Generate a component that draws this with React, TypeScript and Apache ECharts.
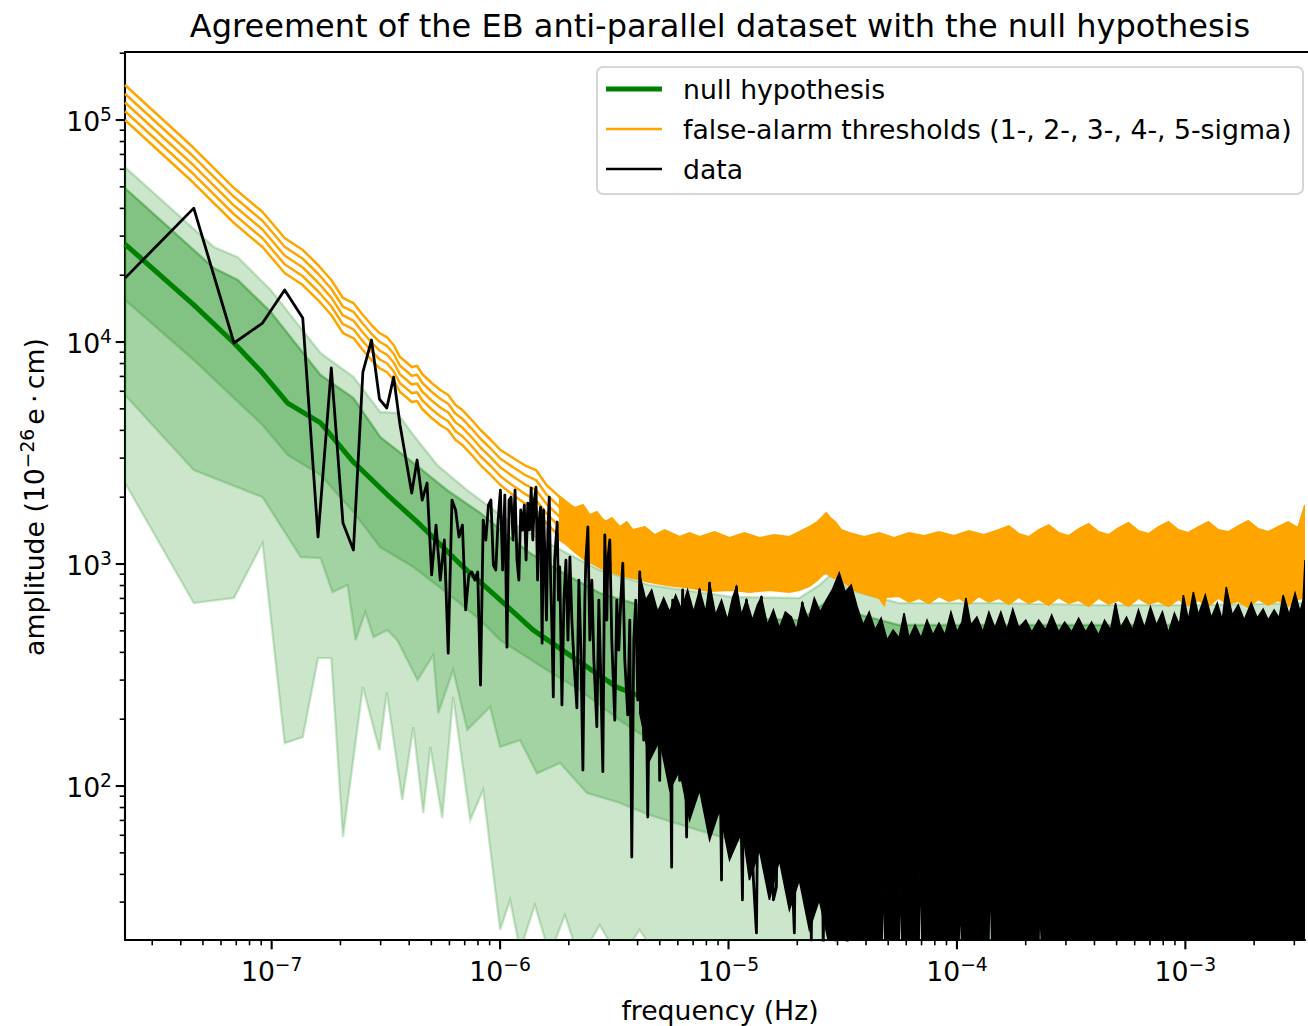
import React, { useEffect, useRef } from "react";
import * as echarts from "echarts";

const FONT = "DejaVu Sans";
const X_MIN = 2.28e-8;
const X_MAX = 3.34e-3;
const Y_MIN = 20.25;
const Y_MAX = 2.025e5;

const xMajorTicks = [1e-7, 1e-6, 1e-5, 1e-4, 1e-3];
const yMajorTicks = [1e2, 1e3, 1e4, 1e5];

const titleText = "Agreement of the EB anti-parallel dataset with the null hypothesis";
const legendLabels = ["null hypothesis", "false-alarm thresholds (1-, 2-, 3-, 4-, 5-sigma)", "data"];

// null hypothesis (median of simulations)
const nullHypothesis: number[][] = [
  [2.28e-8, 27600], [4.56e-8, 14700], [6.84e-8, 9900], [9.12e-8, 7250], [1.175e-7, 5310],
  [1.637e-7, 4320], [2.28e-7, 2880], [3.21e-7, 2050], [4.48e-7, 1500], [6.89e-7, 970],
  [1.0e-6, 690], [1.393e-6, 505], [1.96e-6, 397], [3.24e-6, 279], [4.52e-6, 244],
  [1.04e-5, 232], [5.58e-5, 224], [3.34e-3, 224],
];

// green percentile bands
const band3Upper: number[][] = [
  [2.28e-8, 61400], [5.58e-8, 26800], [7.11e-8, 24100], [9.91e-8, 17150], [1.637e-7, 8920],
  [2.28e-7, 6960], [2.99e-7, 4840], [3.55e-7, 4790], [4.17e-7, 3810], [5.31e-7, 2790],
  [7.18e-7, 2150], [1.073e-6, 1580], [1.352e-6, 1380], [1.96e-6, 1120], [2.73e-6, 939],
  [4.52e-6, 804], [1.04e-5, 710], [2.04e-5, 703], [2.5e-5, 804], [2.85e-5, 911],
  [3.38e-5, 764], [5.58e-5, 667], [1.525e-4, 667], [4.17e-4, 654], [1.14e-3, 654], [3.34e-3, 667],
];
const band12Upper: number[][] = [
  [2.28e-8, 49400], [5.58e-8, 21540], [7.11e-8, 19020], [9.91e-8, 13650], [1.637e-7, 7100],
  [2.28e-7, 5590], [2.99e-7, 3730], [4.17e-7, 2850], [5.87e-7, 2150], [8.18e-7, 1700],
  [1.073e-6, 1350], [1.352e-6, 1120], [1.96e-6, 892], [2.73e-6, 740], [4.52e-6, 634],
  [1.04e-5, 571], [2.04e-5, 559], [2.5e-5, 640], [2.85e-5, 710], [3.38e-5, 608],
  [5.58e-5, 531], [3.34e-3, 531],
];
const band1Lower: number[][] = [
  [2.28e-8, 15460], [4.56e-8, 8300], [6.84e-8, 5590], [9.12e-8, 4230], [1.175e-7, 3100],
  [1.637e-7, 2520], [2.28e-7, 1715], [2.99e-7, 1190], [4.17e-7, 969], [5.87e-7, 740],
  [8.18e-7, 560], [1.0e-6, 454], [1.605e-6, 333], [2.23e-6, 271], [3.34e-6, 198],
  [4.52e-6, 161], [1.04e-5, 140], [3.34e-3, 131],
];
const band2Lower: number[][] = [
  [2.28e-8, 5770], [4.56e-8, 2650], [9.12e-8, 2000], [1.34e-7, 1075], [1.637e-7, 1064],
  [1.845e-7, 748], [2.15e-7, 804], [2.33e-7, 454], [2.57e-7, 608], [2.79e-7, 469],
  [3.21e-7, 504], [3.55e-7, 454], [4.35e-7, 300], [5.1e-7, 389], [5.36e-7, 213],
  [6.23e-7, 333], [7.18e-7, 179], [9.04e-7, 227], [1.0e-6, 150], [1.223e-6, 161],
  [1.45e-6, 114], [1.83e-6, 127], [2.4e-6, 93], [3.34e-6, 84], [4.52e-6, 74],
  [7.47e-6, 63], [1.04e-5, 57], [5.58e-5, 51.5], [3.34e-3, 51.5],
];
const band3Lower: number[][] = [
  [2.28e-8, 2320], [4.56e-8, 667], [6.84e-8, 703], [9.12e-8, 1243], [1.14e-7, 156],
  [1.368e-7, 166], [1.596e-7, 377], [1.824e-7, 377], [2.052e-7, 58.9], [2.508e-7, 279],
  [2.964e-7, 145], [3.192e-7, 265], [3.73e-7, 86.5], [4.17e-7, 184], [4.61e-7, 75.6],
  [4.95e-7, 150], [5.58e-7, 71.7], [6.23e-7, 252], [7.4e-7, 70.3], [8.43e-7, 95.9],
  [1.0e-6, 22.5], [1.106e-6, 30.6], [1.223e-6, 18.2], [1.42e-6, 29.1], [1.65e-6, 17.3],
  [1.92e-6, 26.2], [2.23e-6, 16.5], [2.73e-6, 23.6], [3.34e-6, 16.5], [4.08e-6, 22.5],
  [5.0e-6, 16.5], [3.34e-3, 16.5],
];

// false-alarm thresholds, low-frequency bins (1- to 5-sigma)
const thrFreq = [
  2.28e-8, 4.56e-8, 6.84e-8, 9.12e-8, 1.14e-7, 1.368e-7, 1.596e-7, 1.824e-7, 2.052e-7, 2.28e-7,
  2.508e-7, 2.736e-7, 2.964e-7, 3.192e-7, 3.42e-7, 3.648e-7, 3.876e-7, 4.104e-7, 4.332e-7, 4.56e-7,
  5.016e-7, 5.472e-7, 5.928e-7, 6.384e-7, 6.84e-7, 7.524e-7, 8.208e-7, 9.12e-7, 1.0032e-6, 1.14e-6,
  1.2768e-6, 1.4364e-6, 1.596e-6, 1.824e-6, 2.052e-6, 2.28e-6, 2.622e-6, 2.964e-6,
];
const thr5 = [
  143800, 74790, 49400, 38500, 29400, 25970, 22230, 19020, 15790, 14980,
  13230, 11930, 10980, 10530, 9694, 8558, 8127, 7715, 7796, 7177,
  6536, 6079, 5771, 5203, 4940, 4453, 4015, 3619, 3263, 3002,
  2792, 2651, 2270, 2003, 1825, 1715, 1612, 1546,
];
const thr4 = [
  131300, 68300, 45110, 35160, 26850, 23720, 20300, 17370, 14420, 13680,
  12080, 10890, 10030, 9617, 8853, 7816, 7422, 7046, 7120, 6555,
  5969, 5552, 5270, 4752, 4511, 4067, 3667, 3305, 2980, 2727,
  2530, 2390, 2057, 1806, 1637, 1526, 1427, 1358,
];
const thr3 = [
  119900, 62380, 41200, 32110, 24520, 21660, 18540, 15860, 13170, 12490,
  11040, 9950, 9160, 8783, 8086, 7138, 6779, 6435, 6503, 5986,
  5451, 5070, 4813, 4340, 4120, 3714, 3349, 3018, 2722, 2478,
  2292, 2155, 1864, 1629, 1468, 1358, 1263, 1193,
];
const thr2 = [
  109500, 56970, 37630, 29330, 22390, 19780, 16930, 14490, 12030, 11410,
  10080, 9088, 8366, 8022, 7385, 6519, 6191, 5877, 5939, 5467,
  4979, 4631, 4396, 3963, 3763, 3392, 3058, 2757, 2486, 2251,
  2077, 1942, 1689, 1468, 1316, 1208, 1118, 1048,
];
const thr1 = [
  100000, 52030, 34370, 26790, 20450, 18060, 15460, 13230, 10980, 10420,
  9204, 8297, 7638, 7325, 6743, 5953, 5652, 5367, 5424, 4991,
  4547, 4228, 4015, 3619, 3436, 3097, 2792, 2517, 2270, 2045,
  1882, 1751, 1530, 1324, 1180, 1075, 990, 921,
];

// false-alarm thresholds, dense part: envelope of the 5 overlapping noisy curves
const thrBandUpper: number[][] = [
  [1.828e-6, 2003], [1.962e-6, 1882], [2.126e-6, 1788], [2.304e-6, 1844], [2.472e-6, 1663],
  [2.652e-6, 1715], [2.874e-6, 1546], [3.083e-6, 1612], [3.342e-6, 1468], [3.586e-6, 1546],
  [3.809e-6, 1423], [4.298e-6, 1468], [4.752e-6, 1351], [5.254e-6, 1423], [6.11e-6, 1324],
  [6.756e-6, 1380], [7.472e-6, 1324], [8.688e-6, 1394], [1.0101e-5, 1310], [1.1744e-5, 1380],
  [1.3657e-5, 1310], [1.5878e-5, 1351], [1.8467e-5, 1324], [2.042e-5, 1394], [2.258e-5, 1468],
  [2.4469e-5, 1546], [2.5729e-5, 1627], [2.6785e-5, 1697], [2.7883e-5, 1612], [2.932e-5, 1546],
  [3.114e-5, 1423], [3.3759e-5, 1380], [3.9261e-5, 1324], [4.564e-5, 1380], [5.3079e-5, 1310],
  [6.1723e-5, 1380], [7.1774e-5, 1337], [8.3441e-5, 1394], [9.7028e-5, 1337], [1.1283e-4, 1408],
  [1.312e-4, 1351], [1.5255e-4, 1423], [1.6871e-4, 1483], [1.866e-4, 1365], [2.0626e-4, 1324],
  [2.2808e-4, 1423], [2.5217e-4, 1498], [2.789e-4, 1380], [3.0837e-4, 1337], [3.4102e-4, 1438],
  [3.7711e-4, 1514], [4.17e-4, 1394], [4.6112e-4, 1351], [5.0986e-4, 1453], [5.6376e-4, 1530],
  [6.2344e-4, 1408], [6.8938e-4, 1365], [7.6227e-4, 1468], [8.4297e-4, 1546], [9.32e-4, 1423],
  [1.0306e-3, 1380], [1.1396e-3, 1468], [1.2603e-3, 1546], [1.3934e-3, 1423], [1.5409e-3, 1394],
  [1.7038e-3, 1483], [1.8841e-3, 1562], [2.0833e-3, 1438], [2.304e-3, 1394], [2.5472e-3, 1468],
  [2.8162e-3, 1546], [3.1147e-3, 1453], [3.34e-3, 1844],
];
const thrBandLower: number[][] = [
  [1.828e-6, 1283], [1.962e-6, 1218], [2.126e-6, 1132], [2.304e-6, 1064], [2.472e-6, 1021],
  [2.733e-6, 970], [3.083e-6, 921], [3.342e-6, 893], [3.809e-6, 865], [4.52e-6, 829],
  [5.362e-6, 804], [6.756e-6, 781], [8.262e-6, 756], [1.041e-5, 764], [1.235e-5, 748],
  [1.5102e-5, 764], [1.8467e-5, 748], [2.042e-5, 764], [2.258e-5, 796], [2.4469e-5, 847],
  [2.5729e-5, 893], [2.6785e-5, 911], [2.8449e-5, 874], [3.1455e-5, 838], [3.55e-5, 764],
  [4.0058e-5, 733], [4.564e-5, 703], [4.7994e-5, 654], [4.897e-5, 710], [5.5817e-5, 717],
  [6.1723e-5, 675], [6.8255e-5, 703], [7.5464e-5, 667], [8.3441e-5, 717], [9.2276e-5, 681],
  [1.0203e-4, 703], [1.1283e-4, 661], [1.2477e-4, 717], [1.3797e-4, 675], [1.5255e-4, 703],
  [1.6871e-4, 661], [1.866e-4, 710], [2.0626e-4, 667], [2.2808e-4, 695], [2.5217e-4, 654],
  [2.789e-4, 710], [3.0837e-4, 667], [3.4102e-4, 688], [3.7711e-4, 647], [4.17e-4, 703],
  [4.6112e-4, 661], [5.0986e-4, 688], [5.6376e-4, 647], [6.2344e-4, 703], [6.8938e-4, 661],
  [7.6227e-4, 681], [8.4297e-4, 647], [9.32e-4, 695], [1.0306e-3, 654], [1.1396e-3, 688],
  [1.2603e-3, 647], [1.3934e-3, 703], [1.5409e-3, 661], [1.7038e-3, 681], [1.8841e-3, 640],
  [2.0833e-3, 695], [2.304e-3, 654], [2.5472e-3, 688], [2.8162e-3, 647], [3.1147e-3, 695],
  [3.34e-3, 703],
];

// measured amplitude spectrum (data)
const dataLine: number[][] = [
  [2.28e-8, 19400], [4.56e-8, 40100], [6.84e-8, 9900], [9.12e-8, 12170], [1.14e-7, 17150],
  [1.368e-7, 12820], [1.596e-7, 1324], [1.824e-7, 7637], [2.052e-7, 1529], [2.28e-7, 1156],
  [2.508e-7, 7327], [2.736e-7, 10210], [2.964e-7, 5537], [3.192e-7, 5044], [3.42e-7, 6956],
  [3.648e-7, 4228], [3.876e-7, 2941], [4.104e-7, 2088], [4.332e-7, 2941], [4.56e-7, 1942],
  [4.788e-7, 2316], [5.016e-7, 893], [5.244e-7, 1498], [5.472e-7, 847], [5.7e-7, 1283],
  [5.928e-7, 397], [6.156e-7, 1942], [6.384e-7, 1751], [6.612e-7, 1324], [6.84e-7, 1498],
  [7.068e-7, 621], [7.296e-7, 893], [7.524e-7, 921], [7.752e-7, 847], [7.98e-7, 921],
  [8.208e-7, 285], [8.436e-7, 1578], [8.664e-7, 1283], [8.892e-7, 1844], [9.12e-7, 1942],
  [9.348e-7, 989], [9.576e-7, 940], [9.804e-7, 1578], [1.0032e-6, 2154], [1.026e-6, 940],
  [1.0488e-6, 2045], [1.0716e-6, 422], [1.0944e-6, 1942], [1.1172e-6, 2003], [1.14e-6, 1283],
  [1.1628e-6, 2154], [1.1856e-6, 1042], [1.2084e-6, 847], [1.2312e-6, 1751], [1.254e-6, 1423],
  [1.2768e-6, 1844], [1.2996e-6, 1042], [1.3224e-6, 1882], [1.3452e-6, 1423], [1.368e-6, 2199],
  [1.3908e-6, 1283], [1.4136e-6, 1942], [1.4364e-6, 2222], [1.4592e-6, 847], [1.482e-6, 1578],
  [1.5048e-6, 1806], [1.5276e-6, 440], [1.5504e-6, 1751], [1.5732e-6, 1042], [1.596e-6, 559],
  [1.6188e-6, 1423], [1.6416e-6, 2003], [1.6644e-6, 847], [1.6872e-6, 504], [1.71e-6, 252],
  [1.7328e-6, 1042], [1.7556e-6, 1283], [1.7784e-6, 1546], [1.8012e-6, 688], [1.824e-6, 970],
  [1.846e-6, 454], [1.865e-6, 232], [1.903e-6, 688], [1.942e-6, 1042], [1.982e-6, 454],
  [2.021e-6, 1075], [2.062e-6, 559], [2.104e-6, 369], [2.169e-6, 225], [2.213e-6, 847],
  [2.258e-6, 410], [2.304e-6, 118], [2.35e-6, 688], [2.374e-6, 1042], [2.423e-6, 1468],
  [2.472e-6, 454], [2.522e-6, 847], [2.573e-6, 369], [2.652e-6, 185], [2.706e-6, 688],
  [2.761e-6, 300], [2.817e-6, 116], [2.874e-6, 1351], [2.933e-6, 559], [2.962e-6, 1042],
  [3.022e-6, 1283], [3.083e-6, 454], [3.178e-6, 198], [3.243e-6, 688], [3.309e-6, 410],
  [3.376e-6, 688], [3.445e-6, 1010], [3.515e-6, 369], [3.622e-6, 209], [3.696e-6, 559],
  [3.771e-6, 47.9], [3.848e-6, 454], [3.926e-6, 688], [4.006e-6, 244], [4.087e-6, 921],
  [4.17e-6, 369], [4.255e-6, 161], [4.341e-6, 454], [4.43e-6, 72.5], [4.52e-6, 369],
  [4.658e-6, 601], [4.752e-6, 198], [4.897e-6, 454], [4.997e-6, 106], [5.098e-6, 504],
  [5.202e-6, 244], [5.308e-6, 621], [5.416e-6, 131], [5.526e-6, 410], [5.638e-6, 43.1],
  [5.695e-6, 688], [5.869e-6, 244], [5.988e-6, 454], [6.11e-6, 106], [6.297e-6, 764],
  [6.425e-6, 244], [6.555e-6, 58.9], [6.689e-6, 454], [6.825e-6, 198], [6.964e-6, 559],
  [7.105e-6, 86.5], [7.323e-6, 410], [7.472e-6, 764], [7.624e-6, 131], [7.857e-6, 454],
  [8.098e-6, 198], [8.262e-6, 821], [8.514e-6, 244], [8.775e-6, 86.5], [9.044e-6, 454],
  [9.32e-6, 37.7], [9.509e-6, 559], [9.801e-6, 58.9], [1.0101e-5, 410], [1.0515e-5, 106],
  [1.0837e-5, 788], [1.1169e-5, 198], [1.151e-5, 30.7], [1.1744e-5, 454], [1.1983e-5, 688],
  [1.235e-5, 131], [1.2857e-5, 37.7], [1.3251e-5, 21.8], [1.3657e-5, 454], [1.3934e-5, 710],
  [1.4506e-5, 70.3], [1.5102e-5, 369], [1.5723e-5, 30.7], [1.6204e-5, 35.1], [1.67e-5, 454],
  [1.7386e-5, 131], [1.7918e-5, 244], [1.8467e-5, 577], [1.9033e-5, 37.7], [1.942e-5, 21.8],
  [2.0015e-5, 410], [2.0628e-5, 131], [2.1044e-5, 667], [2.169e-5, 30.7], [2.2355e-5, 454],
  [2.304e-5, 20.2], [2.3744e-5, 559], [2.4469e-5, 37.7], [2.522e-5, 369], [2.5989e-5, 18.2],
  [2.6785e-5, 454], [2.7604e-5, 30.7], [2.8449e-5, 621], [2.932e-5, 20.2], [3.0221e-5, 454],
  [3.114e-5, 24.9], [3.2103e-5, 559], [3.3088e-5, 18.2], [3.41e-5, 410],
];

// dense high-frequency part of the data: spiky upper envelope and the ragged lower edge
const dataDenseUpper: number[][] = [
  [4.087e-6, 893], [4.341e-6, 688], [4.611e-6, 764], [4.897e-6, 608], [5.202e-6, 703],
  [5.526e-6, 608], [5.869e-6, 725], [6.234e-6, 621], [6.622e-6, 764], [7.034e-6, 608],
  [7.472e-6, 764], [7.936e-6, 608], [8.262e-6, 821], [8.775e-6, 589], [9.32e-6, 688],
  [9.9e-6, 559], [1.041e-5, 703], [1.0837e-5, 788], [1.1395e-5, 589], [1.1983e-5, 688],
  [1.2728e-5, 559], [1.3385e-5, 654], [1.3934e-5, 710], [1.48e-5, 531], [1.5723e-5, 621],
  [1.67e-5, 515], [1.7739e-5, 608], [1.8842e-5, 577], [1.9815e-5, 504], [2.1044e-5, 667],
  [2.2355e-5, 559], [2.3744e-5, 703], [2.522e-5, 608], [2.6785e-5, 688], [2.8449e-5, 764],
  [3.053e-5, 911], [3.2429e-5, 748], [3.4445e-5, 804], [3.6587e-5, 640], [3.8866e-5, 531],
  [4.1281e-5, 608], [4.3848e-5, 504], [4.6575e-5, 571], [4.9469e-5, 454], [5.2548e-5, 504],
  [5.5817e-5, 464], [5.8695e-5, 601], [6.1723e-5, 464], [6.5556e-5, 531], [6.9634e-5, 464],
  [7.3961e-5, 559], [7.856e-5, 479], [8.3441e-5, 542], [8.863e-5, 479], [9.4147e-5, 608],
  [1.0e-4, 494], [1.0516e-4, 548], [1.0948e-4, 703], [1.1512e-4, 531], [1.223e-4, 577],
  [1.2988e-4, 494], [1.3797e-4, 608], [1.4655e-4, 515], [1.5565e-4, 608], [1.6536e-4, 504],
  [1.7562e-4, 627], [1.866e-4, 515], [2.0014e-4, 559], [2.1257e-4, 494], [2.2808e-4, 559],
  [2.447e-4, 504], [2.5989e-4, 589], [2.789e-4, 494], [2.962e-4, 548], [3.1783e-4, 494],
  [3.4102e-4, 571], [3.659e-4, 494], [3.8866e-4, 548], [4.17e-4, 479], [4.4289e-4, 559],
  [4.704e-4, 504], [4.946e-4, 667], [5.2018e-4, 515], [5.5256e-4, 577], [5.8695e-4, 504],
  [6.2344e-4, 621], [6.6222e-4, 515], [7.0341e-4, 640], [7.4716e-4, 531], [7.9361e-4, 608],
  [8.4297e-4, 489], [8.9545e-4, 601], [9.4147e-4, 531], [9.801e-4, 725], [1.0306e-3, 559],
  [1.0837e-3, 748], [1.1396e-3, 589], [1.2227e-3, 725], [1.2988e-3, 571], [1.3797e-3, 667],
  [1.4506e-3, 559], [1.5102e-3, 788], [1.6043e-3, 589], [1.7038e-3, 654], [1.8098e-3, 559],
  [1.942e-3, 667], [2.0628e-3, 571], [2.1907e-3, 627], [2.304e-3, 559], [2.447e-3, 621],
  [2.5729e-3, 571], [2.6785e-3, 725], [2.8449e-3, 589], [3.0221e-3, 740], [3.1783e-3, 608],
  [3.2756e-3, 688], [3.34e-3, 1042],
];
const dataDenseLower: number[][] = [
  [4.087e-6, 213], [4.52e-6, 131], [4.997e-6, 161], [5.526e-6, 96], [6.11e-6, 118],
  [6.756e-6, 70.3], [7.472e-6, 96], [8.262e-6, 57.1], [9.135e-6, 78], [1.0101e-5, 46.4],
  [1.151e-5, 63.4], [1.235e-5, 37.7], [1.3657e-5, 51.5], [1.5102e-5, 30.7], [1.67e-5, 46.4],
  [1.8467e-5, 27.6], [2.042e-5, 37.7], [2.258e-5, 22.5], [2.4966e-5, 30.7], [2.7604e-5, 19.2],
  [3.053e-5, 19.2], [4.704e-5, 18.2], [4.7515e-5, 39.7], [4.848e-5, 18.2], [5.5817e-5, 18.2],
  [5.6382e-5, 37.7], [5.7527e-5, 18.2], [6.8255e-5, 18.2], [6.8945e-5, 46.4], [7.0341e-5, 18.2],
  [1.0203e-4, 18.2], [1.0307e-4, 30.7], [1.0516e-4, 18.2], [1.3797e-4, 18.2], [1.3936e-4, 41.8],
  [1.422e-4, 18.2], [2.2808e-4, 18.2], [2.3039e-4, 29.1], [2.3507e-4, 18.2], [3.34e-3, 18.2],
];

const GREEN = "#008000";
const ORANGE = "#ffa500";

const pairs = (f: number[], a: number[]) => f.map((v, i) => [v, a[i]]);

const minorTicks = (lo: number, hi: number) => {
  const out: number[] = [];
  for (let e = Math.floor(Math.log10(lo)); e <= Math.ceil(Math.log10(hi)); e++) {
    for (let k = 2; k <= 9; k++) {
      const v = k * Math.pow(10, e);
      if (v >= lo && v <= hi) out.push(v);
    }
  }
  return out;
};

const powLabel = (v: number) => {
  const l = Math.log10(v);
  const e = Math.round(l);
  if (Math.abs(l - e) > 1e-6) return "";
  const s = e < 0 ? "\u2212" + String(-e) : String(e);
  return `{b|10}{s|${s}}`;
};

const tickRich = {
  b: { fontSize: 26.7, fontFamily: FONT, color: "#000", lineHeight: 30, verticalAlign: "bottom" },
  s: { fontSize: 18.7, fontFamily: FONT, color: "#000", lineHeight: 16, verticalAlign: "top" },
};

const polygonSeries = (upper: number[][], lower: number[][], fill: string, stroke: string, lw: number, z: number) => ({
  type: "custom",
  coordinateSystem: "cartesian2d",
  clip: true,
  silent: true,
  z,
  data: [[upper[0][0], upper[0][1]]],
  renderItem: (_p: any, api: any) => {
    const pts = upper.map((p) => api.coord(p)).concat(lower.slice().reverse().map((p) => api.coord(p)));
    return { type: "polygon", shape: { points: pts }, style: { fill, stroke, lineWidth: lw } };
  },
});

const lineSeries = (data: number[][], color: string, width: number, z: number) => ({
  type: "line",
  data,
  symbol: "none",
  showSymbol: false,
  silent: true,
  z,
  lineStyle: { color, width, join: "round", cap: "butt" },
});

const buildOption = () => {
  const xTickData = [
    ...xMajorTicks.map((v) => [v, Y_MIN, 1]),
    ...minorTicks(X_MIN, X_MAX).map((v) => [v, Y_MIN, 0]),
  ];
  const yTickData = [
    ...yMajorTicks.map((v) => [X_MIN, v, 1]),
    ...minorTicks(Y_MIN, Y_MAX).map((v) => [X_MIN, v, 0]),
  ];
  const bandFill = "rgba(0,128,0,0.2)";
  return {
    animation: false,
    backgroundColor: "#ffffff",
    grid: { left: 125, top: 52, width: 1182, height: 888, containLabel: false },
    xAxis: {
      type: "log",
      logBase: 10,
      min: X_MIN,
      max: X_MAX,
      axisLine: { show: true, onZero: false, lineStyle: { color: "#000", width: 2.1 } },
      axisTick: { show: false },
      minorTick: { show: false },
      splitLine: { show: false },
      axisLabel: { formatter: powLabel, rich: tickRich, margin: 15, color: "#000" },
    },
    yAxis: {
      type: "log",
      logBase: 10,
      min: Y_MIN,
      max: Y_MAX,
      axisLine: { show: true, onZero: false, lineStyle: { color: "#000", width: 2.1 } },
      axisTick: { show: false },
      minorTick: { show: false },
      splitLine: { show: false },
      axisLabel: { formatter: powLabel, rich: tickRich, margin: 13, color: "#000" },
    },
    series: [
      polygonSeries(band3Upper, band3Lower, bandFill, bandFill, 2.4, 1),
      polygonSeries(band12Upper, band2Lower, bandFill, bandFill, 2.4, 1),
      polygonSeries(band12Upper, band1Lower, bandFill, bandFill, 2.4, 1),
      lineSeries(nullHypothesis, GREEN, 5, 2),
      polygonSeries(thrBandUpper, thrBandLower, ORANGE, ORANGE, 2, 3),
      lineSeries(pairs(thrFreq, thr1), ORANGE, 2.5, 3),
      lineSeries(pairs(thrFreq, thr2), ORANGE, 2.5, 3),
      lineSeries(pairs(thrFreq, thr3), ORANGE, 2.5, 3),
      lineSeries(pairs(thrFreq, thr4), ORANGE, 2.5, 3),
      lineSeries(pairs(thrFreq, thr5), ORANGE, 2.5, 3),
      polygonSeries(dataDenseUpper, dataDenseLower, "#000", "#000", 1.5, 4),
      lineSeries(dataLine, "#000", 2.8, 4),
      {
        type: "custom",
        coordinateSystem: "cartesian2d",
        clip: false,
        silent: true,
        z: 10,
        data: xTickData,
        renderItem: (_p: any, api: any) => {
          const major = api.value(2) === 1;
          const p = api.coord([api.value(0), Y_MIN]);
          const len = major ? 9.3 : 5.3;
          return {
            type: "line",
            shape: { x1: p[0], y1: p[1], x2: p[0], y2: p[1] + len },
            style: { stroke: "#000", lineWidth: major ? 2.1 : 1.6 },
          };
        },
      },
      {
        type: "custom",
        coordinateSystem: "cartesian2d",
        clip: false,
        silent: true,
        z: 10,
        data: yTickData,
        renderItem: (_p: any, api: any) => {
          const major = api.value(2) === 1;
          const p = api.coord([X_MIN, api.value(1)]);
          const len = major ? 9.3 : 5.3;
          return {
            type: "line",
            shape: { x1: p[0] - len, y1: p[1], x2: p[0], y2: p[1] },
            style: { stroke: "#000", lineWidth: major ? 2.1 : 1.6 },
          };
        },
      },
    ],
    graphic: [
      {
        type: "line",
        z: 50,
        shape: { x1: 124, y1: 52, x2: 1308, y2: 52 },
        style: { stroke: "#000", lineWidth: 2.1 },
      },
      {
        type: "text",
        z: 50,
        x: 720,
        y: 26,
        style: { text: titleText, fontFamily: FONT, fontSize: 32, fill: "#000", align: "center", verticalAlign: "middle" },
      },
      {
        type: "text",
        z: 50,
        x: 720,
        y: 1010,
        style: { text: "frequency (Hz)", fontFamily: FONT, fontSize: 26.7, fill: "#000", align: "center", verticalAlign: "middle" },
      },
      {
        type: "text",
        z: 50,
        x: 33,
        y: 497,
        rotation: Math.PI / 2,
        style: {
          text: "{n|amplitude (10}{s|\u221226}{n|e\u2009\u00b7\u2009cm)}",
          align: "center",
          verticalAlign: "middle",
          fill: "#000",
          rich: {
            n: { fontSize: 26.7, fontFamily: FONT, fill: "#000", lineHeight: 30, verticalAlign: "bottom" },
            s: { fontSize: 18.7, fontFamily: FONT, fill: "#000", lineHeight: 16, verticalAlign: "top", padding: [0, 4, 0, 0] },
          },
        },
      },
      {
        type: "group",
        z: 60,
        children: [
          {
            type: "rect",
            z: 60,
            shape: { x: 597, y: 67, width: 706, height: 127, r: 6 },
            style: { fill: "rgba(255,255,255,0.8)", stroke: "rgba(204,204,204,0.8)", lineWidth: 2 },
          },
          { type: "line", z: 61, shape: { x1: 606, y1: 89, x2: 662, y2: 89 }, style: { stroke: GREEN, lineWidth: 5 } },
          { type: "line", z: 61, shape: { x1: 606, y1: 129, x2: 662, y2: 129 }, style: { stroke: ORANGE, lineWidth: 2.5 } },
          { type: "line", z: 61, shape: { x1: 606, y1: 169, x2: 662, y2: 169 }, style: { stroke: "#000", lineWidth: 2.5 } },
          ...legendLabels.map((t, i) => ({
            type: "text",
            z: 61,
            x: 683,
            y: 89 + i * 40,
            style: { text: t, fontFamily: FONT, fontSize: 26.7, fill: "#000", align: "left", verticalAlign: "middle" },
          })),
        ],
      },
    ],
  };
};

export default function App() {
  const ref = useRef<HTMLDivElement>(null);
  useEffect(() => {
    document.body.style.margin = "0";
    const chart = echarts.init(ref.current as HTMLDivElement, null, { renderer: "svg" });
    chart.setOption(buildOption() as any);
    return () => chart.dispose();
  }, []);
  return (
    <div
      ref={ref}
      style={{ position: "absolute", left: 0, top: 0, width: 1308, height: 1026, background: "#fff" }}
    />
  );
}
